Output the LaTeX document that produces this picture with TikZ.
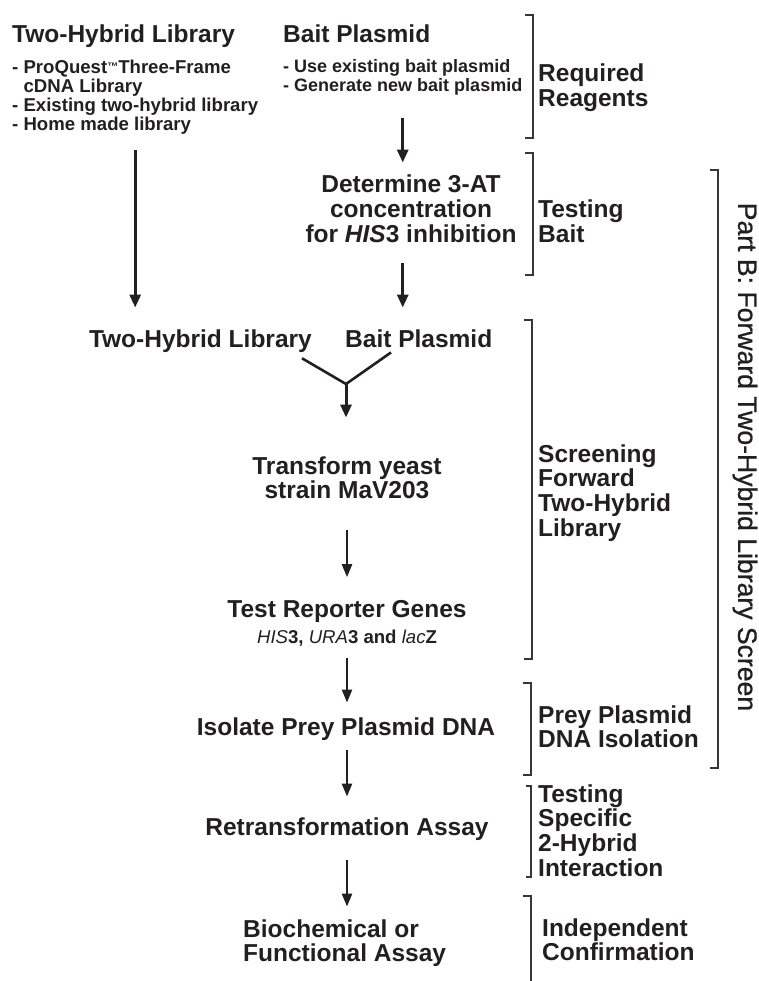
\documentclass[tikz,border=0pt]{standalone}
\usepackage{fontspec}
\setmainfont{Liberation Sans}
\usetikzlibrary{arrows.meta,calc}
\definecolor{ink}{HTML}{231F20}

% stacked lines, first baseline is the box baseline
\newcommand{\stackc}[1]{\vtop{\halign{\hfil##\hfil\cr#1\crcr}}}
\newcommand{\stackl}[1]{\vtop{\halign{##\hfil\cr#1\crcr}}}
\newcommand{\tmark}{{\fontsize{11}{11}\selectfont\raisebox{3pt}{™}}}

\begin{document}
\begin{tikzpicture}[x=1pt,y=-1pt,
  every node/.style={inner sep=0pt,text=ink},
  big/.style={font=\fontsize{24.5}{24.7}\selectfont\bfseries},
  small/.style={font=\fontsize{18.6}{18.8}\selectfont\bfseries},
  smaller/.style={font=\fontsize{18}{19}\selectfont\bfseries},
  sidetitle/.style={font=\fontsize{26.6}{27}\selectfont\addfontfeature{FakeBold=0.8}},
  bigarrow/.style={draw=ink,line width=3pt,-{Triangle[length=13pt,width=11pt]}},
  thinarrow/.style={draw=ink,line width=2.4pt,-{Triangle[length=13pt,width=10pt]}},
  joinline/.style={draw=ink,line width=2.6pt},
  bracket/.style={draw=ink!90,line width=1.5pt}]
\useasboundingbox (0,0) rectangle (758,981);

% ---- required reagents
\node[big,anchor=base west] (lib1) at (12,43) {Two-Hybrid Library};
\node[small,anchor=base west] (libopts) at (12,74)
  {\stackl{- ProQuest\tmark Three-Frame\cr\hphantom{- }cDNA Library\cr- Existing two-hybrid library\cr- Home made library}};
\node[big,anchor=base west] (bait1) at (283,43) {Bait Plasmid};
\node[smaller,anchor=base west] (baitopts) at (283,73)
  {\stackl{- Use existing bait plasmid\cr- Generate new bait plasmid}};

% ---- bait test
\node[big,anchor=base] (det) at (411,193)
  {\stackc{Determine 3-AT\cr concentration\cr for \textit{HIS}3 inhibition}};

% ---- screening
\node[big,anchor=base east] (lib2) at (312,347) {Two-Hybrid Library};
\node[big,anchor=base west] (bait2) at (345,347) {Bait Plasmid};
\node[big,anchor=base] (transform) at (347,474) {\stackc{Transform yeast\cr strain MaV203}};
\node[big,anchor=base] (reporter) at (347,617) {Test Reporter Genes};
\node[small,anchor=base] (genes) at (347,643)
  {{\mdseries\itshape HIS}3, {\mdseries\itshape URA}3 and {\mdseries\itshape lac}Z};
\node[big,anchor=base] (isolate) at (346,735) {Isolate Prey Plasmid DNA};
\node[big,anchor=base] (retrans) at (347,835) {Retransformation Assay};
\node[big,anchor=base west] (assay) at (243,937) {\stackl{Biochemical or\cr Functional Assay}};

% ---- stage labels
\node[big,anchor=base west] (req) at (538,82) {\stackl{Required\cr Reagents}};
\node[big,anchor=base west] (tbait) at (538,218) {\stackl{Testing\cr Bait}};
\node[big,anchor=base west] (screen) at (538,462) {\stackl{Screening\cr Forward\cr Two-Hybrid\cr Library}};
\node[big,anchor=base west] (prey) at (538,723) {\stackl{Prey Plasmid\cr DNA Isolation}};
\node[big,anchor=base west] (tspec) at (538,802) {\stackl{Testing\cr Specific\cr 2-Hybrid\cr Interaction}};
\node[big,anchor=base west] (indep) at (542,936) {\stackl{Independent\cr Confirmation}};
\node[sidetitle,rotate=-90] (partb) at (745,457) {Part B: Forward Two-Hybrid Library Screen};

% ---- brackets
\draw[bracket] (525,15) -- (533,15) -- (533,138) -- (525,138);
\draw[bracket] (525,153) -- (533,153) -- (533,275) -- (525,275);
\draw[bracket] (524,320) -- (532,320) -- (532,659) -- (524,659);
\draw[bracket] (523,683) -- (531,683) -- (531,775) -- (523,775);
\draw[bracket] (526,786) -- (531,786) -- (531,877) -- (526,877);
\draw[bracket] (523,896) -- (531,896) -- (531,981);
\draw[bracket] (710,170) -- (718,170) -- (718,768) -- (710,768);

% ---- flow arrows
\draw[bigarrow,shorten <=16pt,shorten >=21.5pt] (libopts.south) -- (libopts.south |- lib2.north);
\draw[bigarrow,shorten <=22pt,shorten >=12.5pt] (baitopts.south) -- (baitopts.south |- det.north);
\draw[bigarrow,shorten <=20pt,shorten >=21.5pt] (baitopts.south |- det.south) -- (baitopts.south |- bait2.north);

\coordinate (yl) at ($(lib2.south east)+(-10,6)$);
\coordinate (yr) at ($(bait2.south west)+(46,5)$);
\coordinate (yj) at (346,384);
\draw[joinline] (yl) -- (yj) -- (yr);
\draw[bigarrow,shorten >=38.5pt] (yj) -- (yj |- transform.north);

\draw[thinarrow,shorten <=31pt,shorten >=22.5pt] (transform.south) -- (transform.south |- reporter.north);
\draw[thinarrow,shorten <=12pt,shorten >=14.5pt] (transform.south |- genes.south) -- (transform.south |- isolate.north);
\draw[thinarrow,shorten <=10pt,shorten >=20.5pt] (transform.south |- isolate.south) -- (transform.south |- retrans.north);
\draw[thinarrow,shorten <=20pt,shorten >=12.5pt] (transform.south |- retrans.south) -- (transform.south |- assay.north);
\end{tikzpicture}
\end{document}
